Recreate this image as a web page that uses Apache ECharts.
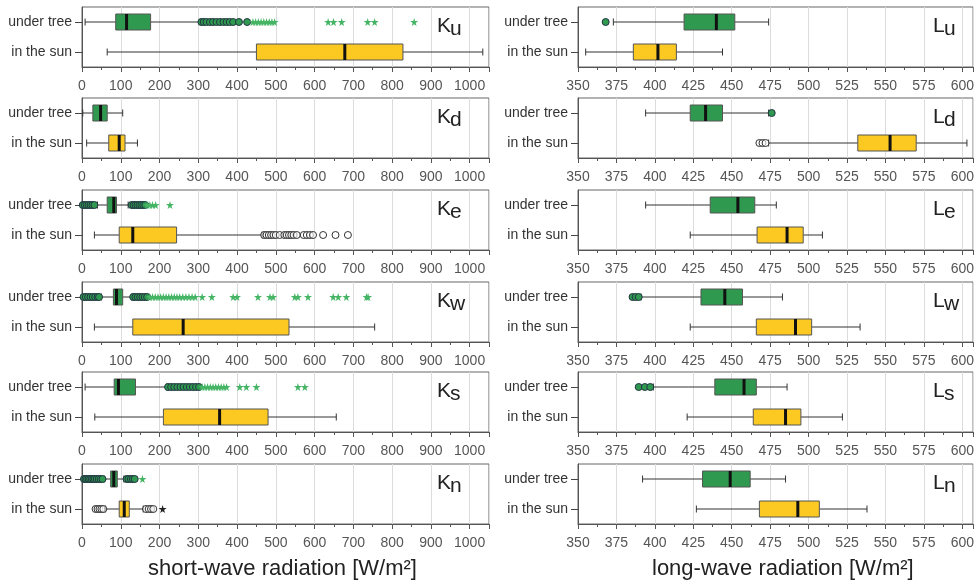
<!DOCTYPE html>
<html><head><meta charset="utf-8">
<script src="https://cdn.jsdelivr.net/npm/echarts@6/dist/echarts.min.js"></script>
<style>html,body{margin:0;padding:0;background:#fff}#c{width:977px;height:583px}</style>
</head><body><div id="c"></div>
<script>
// ---------- data ----------
const categories = ['under tree', 'in the sun'];
const swTicks = { min: 0, max: 1050, interval: 100 };
const lwTicks = { min: 350, max: 607, interval: 25 };

// boxes: [min whisker, Q1, median, Q3, max whisker]  (index 0 = under tree, 1 = in the sun)
const Ku_box = [[8, 87, 115, 177, 305], [65, 450, 678, 828, 1034]];
const Ku_tree_circles = [308, 314, 321, 330, 338, 347, 356, 365, 373, 381, 390, 405, 426];
const Ku_tree_stars = [441, 448, 455, 462, 469, 476, 483, 490, 497, 635, 649, 670, 737, 755, 857];

const Kd_box = [[2, 28, 48, 65, 105], [12, 69, 96, 111, 143]];

const Ke_box = [[40, 65, 82, 89, 119], [32, 96, 131, 244, 465]];
const Ke_tree_circles = [2, 7, 12, 17, 22, 27, 32, 128, 133, 138, 143, 148, 153, 158, 163];
const Ke_tree_stars = [168, 175, 182, 190, 227];
const Ke_sun_open = [470, 476, 482, 488, 494, 500, 510, 522, 528, 534, 540, 546, 554, 572, 580, 588, 596, 622, 654, 686];

const Kw_box = [[50, 81, 89, 105, 128], [32, 131, 261, 534, 755]];
const Kw_tree_circles = [4, 10, 16, 22, 28, 34, 40, 44, 132, 138, 144, 150, 156, 162, 168];
const Kw_tree_stars = [175, 182, 189, 196, 203, 210, 217, 224, 231, 238, 245, 252, 260, 268, 276, 284, 292, 310, 335, 390, 400, 454, 485, 493, 549, 557, 583, 648, 661, 682, 734, 738];

const Ks_box = [[8, 83, 94, 138, 218], [33, 210, 355, 480, 656]];
const Ks_tree_circles = [222, 230, 238, 246, 254, 262, 270, 278, 286, 294, 302];
const Ks_tree_stars = [310, 317, 324, 331, 338, 345, 352, 359, 366, 373, 407, 424, 450, 557, 575];

const Kn_box = [[57, 74, 82, 91, 108], [60, 96, 109, 122, 158]];
const Kn_tree_circles = [5, 9, 13, 17, 21, 25, 29, 33, 38, 43, 48, 53, 115, 120, 126, 131, 136];
const Kn_tree_stars = [156];
const Kn_sun_open = [35, 40, 45, 50, 55, 165, 172, 178, 184];
const Kn_sun_stars = [208];

const Lu_box = [[373, 419, 440, 452, 474], [355, 386, 402, 414, 444]];
const Lu_tree_circles = [368];

const Ld_box = [[394, 423, 433, 444, 474], [474, 532, 553, 570, 603]];
const Ld_tree_circles = [476];
const Ld_sun_open = [468, 470, 472];

const Le_box = [[394, 436, 454, 465, 479], [423, 466.5, 486, 496.5, 509]];

const Lw_box = [[391, 430, 445.5, 457, 483], [423, 466, 491.5, 502, 533.5]];
const Lw_tree_circles = [385.5, 387.5, 389.5];

const Ls_box = [[399, 439, 458, 466, 486], [421, 464, 485, 495, 522]];
const Ls_tree_circles = [389.5, 393.5, 397];

const Ln_box = [[392, 431, 449, 462, 485], [427, 468, 493, 507, 538]];

// panels: letter, subscript, column, row
const panels = [
  { L: 'K', s: 'u', col: 0, row: 0, box: Ku_box, tc: Ku_tree_circles, ts: Ku_tree_stars },
  { L: 'K', s: 'd', col: 0, row: 1, box: Kd_box },
  { L: 'K', s: 'e', col: 0, row: 2, box: Ke_box, tc: Ke_tree_circles, ts: Ke_tree_stars, so: Ke_sun_open },
  { L: 'K', s: 'w', col: 0, row: 3, box: Kw_box, tc: Kw_tree_circles, ts: Kw_tree_stars },
  { L: 'K', s: 's', col: 0, row: 4, box: Ks_box, tc: Ks_tree_circles, ts: Ks_tree_stars },
  { L: 'K', s: 'n', col: 0, row: 5, box: Kn_box, tc: Kn_tree_circles, ts: Kn_tree_stars, so: Kn_sun_open, ss: Kn_sun_stars },
  { L: 'L', s: 'u', col: 1, row: 0, box: Lu_box, tc: Lu_tree_circles },
  { L: 'L', s: 'd', col: 1, row: 1, box: Ld_box, tc: Ld_tree_circles, so: Ld_sun_open },
  { L: 'L', s: 'e', col: 1, row: 2, box: Le_box },
  { L: 'L', s: 'w', col: 1, row: 3, box: Lw_box, tc: Lw_tree_circles },
  { L: 'L', s: 's', col: 1, row: 4, box: Ls_box, tc: Ls_tree_circles },
  { L: 'L', s: 'n', col: 1, row: 5, box: Ln_box }
];
const xTitles = ['short-wave radiation [W/m²]', 'long-wave radiation [W/m²]'];

// ---------- styling / layout ----------
const FONT = '"Liberation Sans", Arial, sans-serif';
const GREEN = '#2f9a4f', YELLOW = '#fbc922';
const STAR = 'path://M50 0 L61 35 L98 35 L68 57 L79 91 L50 70 L21 91 L32 57 L2 35 L39 35 Z';
const tops = [7, 98, 190, 282, 372, 464];
const colLeft = [82, 578], colWidth = [407, 399];

function renderBox(params, api) {
  const cat = api.value(0);
  const p = [1, 2, 3, 4, 5].map(d => api.coord([api.value(d), cat]));
  const y = p[0][1], h = 16, cap = 7;
  const lineStyle = { stroke: '#333', lineWidth: 1 };
  return {
    type: 'group',
    children: [
      { type: 'line', shape: { x1: p[0][0], y1: y, x2: p[1][0], y2: y }, style: lineStyle },
      { type: 'line', shape: { x1: p[3][0], y1: y, x2: p[4][0], y2: y }, style: lineStyle },
      { type: 'line', shape: { x1: p[0][0], y1: y - cap / 2, x2: p[0][0], y2: y + cap / 2 }, style: lineStyle },
      { type: 'line', shape: { x1: p[4][0], y1: y - cap / 2, x2: p[4][0], y2: y + cap / 2 }, style: lineStyle },
      { type: 'rect', shape: { x: p[1][0], y: y - h / 2, width: p[3][0] - p[1][0], height: h },
        style: { fill: cat === 0 ? GREEN : YELLOW, stroke: '#555', lineWidth: 1 } },
      { type: 'line', shape: { x1: p[2][0], y1: y - h / 2, x2: p[2][0], y2: y + h / 2 },
        style: { stroke: '#111', lineWidth: 3 } }
    ]
  };
}

const grids = [], xAxes = [], yAxes = [], series = [], graphics = [];
panels.forEach((p, i) => {
  const t = p.col === 0 ? swTicks : lwTicks;
  grids.push({ left: colLeft[p.col], width: colWidth[p.col], top: tops[p.row], height: 60,
    show: true, borderColor: '#666', borderWidth: 1, backgroundColor: 'transparent' });
  xAxes.push({
    gridIndex: i, type: 'value', min: t.min, max: t.max, interval: t.interval,
    axisLine: { show: true, lineStyle: { color: '#555' } },
    axisTick: { show: true, length: 5, lineStyle: { color: '#555' } },
    minorTick: { show: true, splitNumber: 2, length: 3, lineStyle: { color: '#555' } },
    splitLine: { show: true, lineStyle: { color: '#dcdcdc' } },
    axisLabel: { color: '#555', fontSize: 14, fontFamily: FONT, margin: 12, showMaxLabel: false,
      formatter: v => String(v) }
  });
  yAxes.push({
    gridIndex: i, type: 'category', data: categories, inverse: true,
    axisLine: { show: true, lineStyle: { color: '#555' } },
    axisTick: { show: true, alignWithLabel: true, length: 7, lineStyle: { color: '#444' } },
    axisLabel: { color: '#333', fontSize: 14, fontFamily: FONT, margin: 10 },
    splitLine: { show: false }
  });
  series.push({
    type: 'custom', xAxisIndex: i, yAxisIndex: i, renderItem: renderBox, z: 3,
    encode: { x: [1, 2, 3, 4, 5], y: 0 },
    data: p.box.map((b, k) => [k].concat(b))
  });
  const sh = (arr, k) => arr.map(v => [v, k]);
  if (p.tc) series.push({ type: 'scatter', xAxisIndex: i, yAxisIndex: i, z: 4, symbol: 'circle', symbolSize: 7,
    itemStyle: { color: GREEN, borderColor: '#234', borderWidth: 1, opacity: 1 }, data: sh(p.tc, 0) });
  if (p.ts) series.push({ type: 'scatter', xAxisIndex: i, yAxisIndex: i, z: 4, symbol: STAR, symbolSize: 8,
    itemStyle: { color: '#45b565', opacity: 1 }, data: sh(p.ts, 0) });
  if (p.so) series.push({ type: 'scatter', xAxisIndex: i, yAxisIndex: i, z: 4, symbol: 'circle', symbolSize: 7,
    itemStyle: { color: 'rgba(255,255,255,0.6)', borderColor: '#333', borderWidth: 1, opacity: 1 }, data: sh(p.so, 1) });
  if (p.ss) series.push({ type: 'scatter', xAxisIndex: i, yAxisIndex: i, z: 4, symbol: STAR, symbolSize: 8,
    itemStyle: { color: '#222', opacity: 1 }, data: sh(p.ss, 1) });

  const lx = p.col === 0 ? 437 : 933;
  const ly = tops[p.row] + 9;
  graphics.push({ type: 'text', left: lx, top: ly, z: 10,
    style: { text: p.L, font: '21px ' + FONT, fill: '#222' } });
  graphics.push({ type: 'text', left: lx + (p.L === 'K' ? 13 : 11), top: ly + 3, z: 10,
    style: { text: p.s, font: '21px ' + FONT, fill: '#222' } });
});
graphics.push({ type: 'text', left: 148, top: 558, style: { text: xTitles[0], font: '22px ' + FONT, fill: '#222' } });
graphics.push({ type: 'text', left: 652, top: 558, style: { text: xTitles[1], font: '22px ' + FONT, fill: '#222' } });

const chart = echarts.init(document.getElementById('c'), null, { renderer: 'canvas' });
chart.setOption({
  animation: false,
  backgroundColor: '#fff',
  grid: grids, xAxis: xAxes, yAxis: yAxes, series: series, graphic: graphics
});
</script></body></html>
